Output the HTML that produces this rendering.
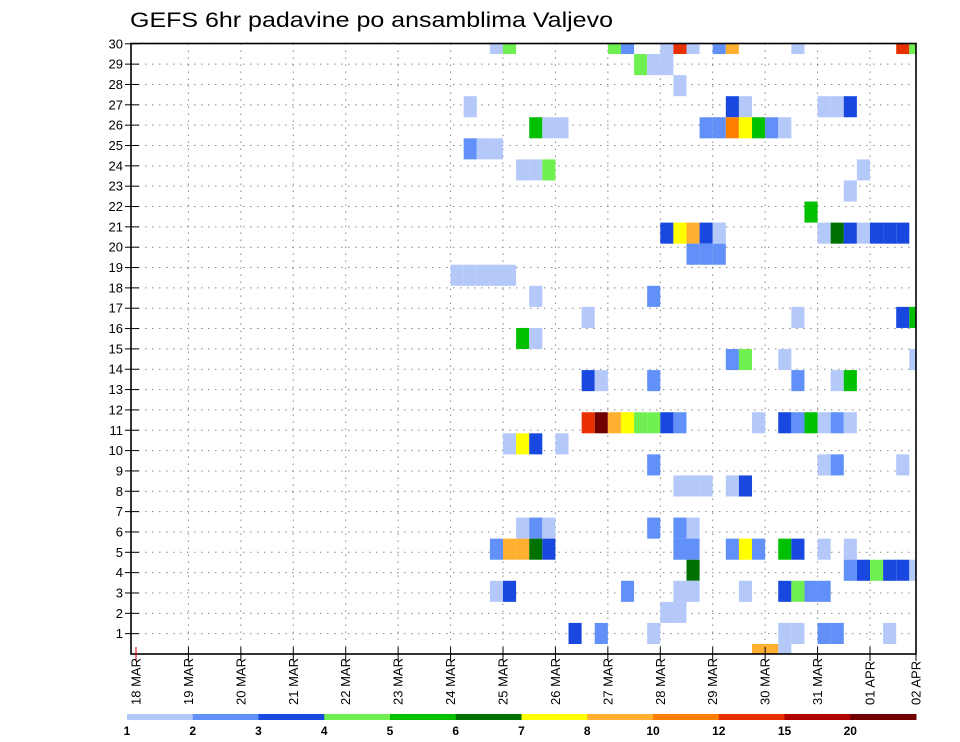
<!DOCTYPE html>
<html><head><meta charset="utf-8"><style>
html,body{margin:0;padding:0;background:#fff;}
svg{display:block;font-family:"Liberation Sans",sans-serif;}
</style></head><body>
<svg id="chart" width="960" height="742" viewBox="0 0 960 742">
<text x="130" y="27" font-size="21" textLength="483" lengthAdjust="spacingAndGlyphs" fill="#000">GEFS 6hr padavine po ansamblima Valjevo</text>
<g id="grid"></g><g id="cells"></g><g id="axes"></g><g id="legend"></g>
</svg>
<script>
const dayLabels=["18 MAR","19 MAR","20 MAR","21 MAR","22 MAR","23 MAR","24 MAR","25 MAR","26 MAR","27 MAR","28 MAR","29 MAR","30 MAR","31 MAR","01 APR","02 APR"];
const rowLabels=[1,2,3,4,5,6,7,8,9,10,11,12,13,14,15,16,17,18,19,20,21,22,23,24,25,26,27,28,29,30];
const levelLabels=["1","2","3","4","5","6","7","8","10","12","15","20"];
const levelColors=["#b4c8fa","#6090f8","#1848e0","#70f050","#00c000","#007000","#ffff00","#ffb030","#ff8000","#e83000","#b00000","#700000"];
const levelBounds=[1,2,3,4,5,6,7,8,10,12,15,20];
// ensemble member index (cell row), 6h step index from 18 MAR 00Z, precip value (mm)
const cellMember=[
29,29,29,29,29,29,29,29,29,29,29,29,
28,28,28,
27,
26,26,26,26,26,26,
25,25,25,25,25,25,25,25,25,25,
24,24,24,
23,23,23,23,
22,
21,
20,20,20,20,20,20,20,20,20,20,20,20,
19,19,19,
18,18,18,18,18,
17,17,
16,16,16,16,
15,15,
14,14,14,14,
13,13,13,13,13,13,
11,11,11,11,11,11,11,11,11,11,11,11,11,11,11,
10,10,10,10,
9,9,9,9,
8,8,8,8,8,
6,6,6,6,6,6,
5,5,5,5,5,5,5,5,5,5,5,5,5,5,
4,4,4,4,4,4,4,
3,3,3,3,3,3,3,3,3,3,
2,2,
1,1,1,1,1,1,1,1,
0,0,0];
const cellStep=[
27,28,36,37,40,41,42,44,45,50,58,59,
38,39,40,
41,
25,45,46,52,53,54,
30,31,32,43,44,45,46,47,48,49,
25,26,27,
29,30,31,55,
54,
51,
40,41,42,43,44,52,53,54,55,56,57,58,
42,43,44,
24,25,26,27,28,
30,39,
34,50,58,59,
29,30,
45,46,49,59,
34,35,39,50,53,54,
34,35,36,37,38,39,40,41,47,49,50,51,52,53,54,
28,29,30,32,
39,52,53,58,
41,42,43,45,46,
29,30,31,39,41,42,
27,28,29,30,31,41,42,45,46,47,49,50,52,54,
42,54,55,56,57,58,59,
27,28,37,41,42,46,49,50,51,52,
40,41,
33,35,39,49,50,52,53,57,
47,48,49];
const cellValue=[
1.5,4.5,4.5,2.5,1.5,13.5,1.5,2.5,9,1.5,13.5,4.5,
4.5,1.5,1.5,
1.5,
1.5,3.5,1.5,1.5,1.5,3.5,
5.5,1.5,1.5,2.5,2.5,11,7.5,5.5,2.5,1.5,
2.5,1.5,1.5,
1.5,1.5,4.5,1.5,
1.5,
5.5,
3.5,7.5,9,3.5,1.5,1.5,6.5,3.5,1.5,3.5,3.5,3.5,
2.5,2.5,2.5,
1.5,1.5,1.5,1.5,1.5,
1.5,2.5,
1.5,1.5,3.5,5.5,
5.5,1.5,
2.5,4.5,1.5,1.5,
3.5,1.5,2.5,2.5,1.5,5.5,
13.5,22,9,7.5,4.5,4.5,3.5,2.5,1.5,3.5,2.5,5.5,1.5,2.5,1.5,
1.5,7.5,3.5,1.5,
2.5,1.5,2.5,1.5,
1.5,1.5,1.5,1.5,3.5,
1.5,2.5,1.5,2.5,2.5,1.5,
2.5,9,9,6.5,3.5,2.5,2.5,2.5,7.5,2.5,5.5,3.5,1.5,1.5,
6.5,2.5,3.5,4.5,3.5,3.5,1.5,
1.5,3.5,2.5,1.5,1.5,1.5,3.5,4.5,2.5,2.5,
1.5,1.5,
3.5,2.5,1.5,1.5,1.5,2.5,2.5,1.5,
9,9,1.5];

const NS="http://www.w3.org/2000/svg";
const PL=131,PR=916,PT=43.5,PB=654;
function xScale(step){return 136+step*13.107;}
function yLabel(r){return 654-r*20.34;}
function yCellTop(m){return 644-21.07*m;}
const cellH=21.07;
function colorFor(v){let i=0;for(let k=0;k<levelBounds.length;k++){if(v>=levelBounds[k])i=k;}return levelColors[i];}
function mk(tag,attrs,parent){const e=document.createElementNS(NS,tag);for(const k in attrs)e.setAttribute(k,attrs[k]);parent.appendChild(e);return e;}

const grid=document.getElementById('grid');
rowLabels.forEach(r=>{
  const l=mk('line',{x1:PL,x2:PR,y1:yLabel(r),y2:yLabel(r),stroke:'#888','stroke-width':1,'stroke-dasharray':'1.5 5.5'},grid);
  
  
});
dayLabels.forEach((d,i)=>{
  if(i===0)return;
  const x=xScale(i*4); if(x>PR)return;
  const l=mk('line',{x1:x,x2:x,y1:PT,y2:PB,stroke:'#888','stroke-width':1,'stroke-dasharray':'1.5 5.5'},grid);
  
  
});

const cells=document.getElementById('cells');
for(let i=0;i<cellMember.length;i++){
  const x0=Math.max(PL,xScale(cellStep[i])), x1=Math.min(PR,xScale(cellStep[i]+1));
  const y0=Math.max(PT,yCellTop(cellMember[i])), y1=Math.min(PB,yCellTop(cellMember[i])+cellH);
  const r=mk('rect',{x:x0,y:y0,width:x1-x0,height:y1-y0,fill:colorFor(cellValue[i])},cells);
  
  
}

const axes=document.getElementById('axes');
const fr=mk('rect',{x:PL,y:PT,width:PR-PL,height:PB-PT,fill:'none',stroke:'#000','stroke-width':1.6},axes);


rowLabels.forEach(r=>{
  const y=yLabel(r);
  const t=mk('line',{x1:125,x2:139,y1:y,y2:y,stroke:'#000','stroke-width':1},axes);
  
  
  const tx=mk('text',{x:123,y:y+4.5,'text-anchor':'end','font-size':13,fill:'#000'},axes);
  tx.textContent=r;
  
  
});
dayLabels.forEach((d,i)=>{
  let x=xScale(i*4); if(x>PR)x=PR;
  const t=mk('line',{x1:x,x2:x,y1:PB-7,y2:PB+7,stroke:i===0?'#c00':'#000','stroke-width':1},axes);
  
  
  const tx=mk('text',{x:0,y:0,'font-size':13,fill:'#000',transform:'translate('+(x+4.5)+',705) rotate(-90)'},axes);
  tx.textContent=d;
  
  
});

const legend=document.getElementById('legend');
const segW=(916-127)/levelColors.length;
levelColors.forEach((c,i)=>{
  const r=mk('rect',{x:127+i*segW,y:714,width:segW+0.5,height:6,fill:c},legend);
  
  
  const tx=mk('text',{x:127+i*segW,y:735,'text-anchor':'middle','font-size':12,'font-weight':'bold',fill:'#000'},legend);
  tx.textContent=levelLabels[i];
  
  
});
</script>
</body></html>
